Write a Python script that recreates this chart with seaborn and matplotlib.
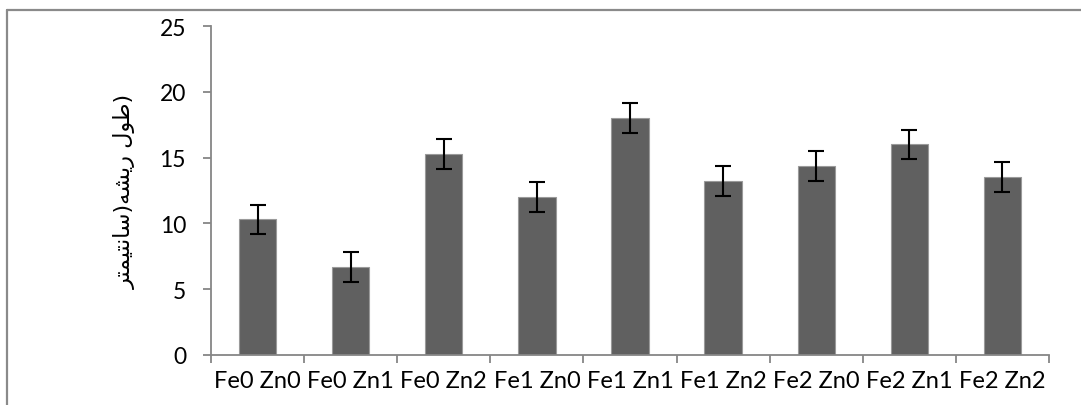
import numpy as np
import pandas as pd
import matplotlib
matplotlib.use("Agg")
import matplotlib.pyplot as plt
from matplotlib.lines import Line2D
import seaborn as sns

# ---------------- data ----------------
categories = ["Fe0 Zn0", "Fe0 Zn1", "Fe0 Zn2", "Fe1 Zn0", "Fe1 Zn1",
              "Fe1 Zn2", "Fe2 Zn0", "Fe2 Zn1", "Fe2 Zn2"]
values = [10.3, 6.7, 15.3, 12.0, 18.0, 13.2, 14.35, 16.0, 13.5]
errors = [1.12, 1.12, 1.13, 1.12, 1.12, 1.13, 1.13, 1.12, 1.15]
y_ticks = [0, 5, 10, 15, 20, 25]
y_label = "طول ریشه(سانتیمتر)"

# ---------- minimal Arabic/Persian shaping (matplotlib has no shaper) ----------
FORMS = {  # iso, fin, ini, med  (None -> right-joining only)
    "ط": ("\uFEC1", "\uFEC2", "\uFEC3", "\uFEC4"),
    "و": ("\uFEED", "\uFEEE", None, None),
    "ل": ("\uFEDD", "\uFEDE", "\uFEDF", "\uFEE0"),
    "ر": ("\uFEAD", "\uFEAE", None, None),
    "ی": ("\uFBFC", "\uFBFD", "\uFEF3", "\uFEF4"),
    "ش": ("\uFEB5", "\uFEB6", "\uFEB7", "\uFEB8"),
    "ه": ("\uFEE9", "\uFEEA", "\uFEEB", "\uFEEC"),
    "س": ("\uFEB1", "\uFEB2", "\uFEB3", "\uFEB4"),
    "ا": ("\uFE8D", "\uFE8E", None, None),
    "ن": ("\uFEE5", "\uFEE6", "\uFEE7", "\uFEE8"),
    "ت": ("\uFE95", "\uFE96", "\uFE97", "\uFE98"),
    "م": ("\uFEE1", "\uFEE2", "\uFEE3", "\uFEE4"),
}


def shape_rtl(text):
    # reproduce the way the original chart displayed the label:
    # trailing ")" stays at the visual end, the rest is an RTL run
    trail = ""
    if text.endswith(")"):
        text, trail = text[:-1], ")"
    out = []
    for i, ch in enumerate(text):
        if ch not in FORMS:
            out.append(ch)
            continue
        prev = text[i - 1] if i > 0 else ""
        nxt = text[i + 1] if i + 1 < len(text) else ""
        join_prev = prev in FORMS and FORMS[prev][2] is not None
        join_next = nxt in FORMS and FORMS[ch][2] is not None
        iso, fin, ini, med = FORMS[ch]
        if join_prev and join_next:
            out.append(med)
        elif join_prev:
            out.append(fin)
        elif join_next:
            out.append(ini)
        else:
            out.append(iso)
    mirror = {"(": ")", ")": "("}
    vis = "".join(mirror.get(c, c) for c in reversed(out))
    return vis + trail


# ---------------- figure ----------------
sns.set_theme(style="white")
plt.rcParams["font.family"] = ["Lato", "DejaVu Sans"]

W, H = 1081, 406
fig = plt.figure(figsize=(W / 100, H / 100), dpi=100)
ax = fig.add_axes([211 / W, 1 - 356 / H, (1049 - 211) / W, (356 - 27) / H])

df = pd.DataFrame({"cat": categories, "val": values})
sns.barplot(data=df, x="cat", y="val", order=categories, color="#606060",
            width=0.4, saturation=1, edgecolor="#9a9a9a", linewidth=0.8,
            errorbar=None, ax=ax)
ax.errorbar(x=np.arange(len(categories)), y=values, yerr=errors, fmt="none",
            ecolor="black", elinewidth=1.5, capsize=5.5, capthick=1.5, zorder=5)

ax.set_xlim(-0.5, len(categories) - 0.5)
ax.set_ylim(0, 25)
ax.set_yticks(y_ticks)
ax.set_xlabel("")
ax.set_ylabel(shape_rtl(y_label), family=["DejaVu Sans"], fontsize=16,
              labelpad=17, color="black")

for s in ["top", "right"]:
    ax.spines[s].set_visible(False)
for s in ["left", "bottom"]:
    ax.spines[s].set_color("#868686")
    ax.spines[s].set_linewidth(1.3)

ax.set_xticks(np.arange(len(categories)))
ax.set_xticklabels(categories)
ax.set_xticks(np.arange(-0.5, len(categories), 1.0), minor=True)
ax.tick_params(axis="x", which="major", length=0, pad=11, labelsize=17,
               labelcolor="black")
ax.tick_params(axis="x", which="minor", length=6, width=1.3, color="#868686",
               direction="out", bottom=True)
ax.tick_params(axis="y", length=6, width=1.3, color="#868686", direction="out",
               pad=12, labelsize=16.5, labelcolor="black", left=True)

# figure frame (cropped at the right and bottom in the original)
fig.add_artist(Line2D([7.5 / W, 1.0], [1 - 10.5 / H, 1 - 10.5 / H],
                      transform=fig.transFigure, color="#8a8a8a", lw=1.6))
fig.add_artist(Line2D([7.5 / W, 7.5 / W], [0, 1 - 10.5 / H],
                      transform=fig.transFigure, color="#8a8a8a", lw=1.6))

fig.savefig("out.png", dpi=100, facecolor="white")
